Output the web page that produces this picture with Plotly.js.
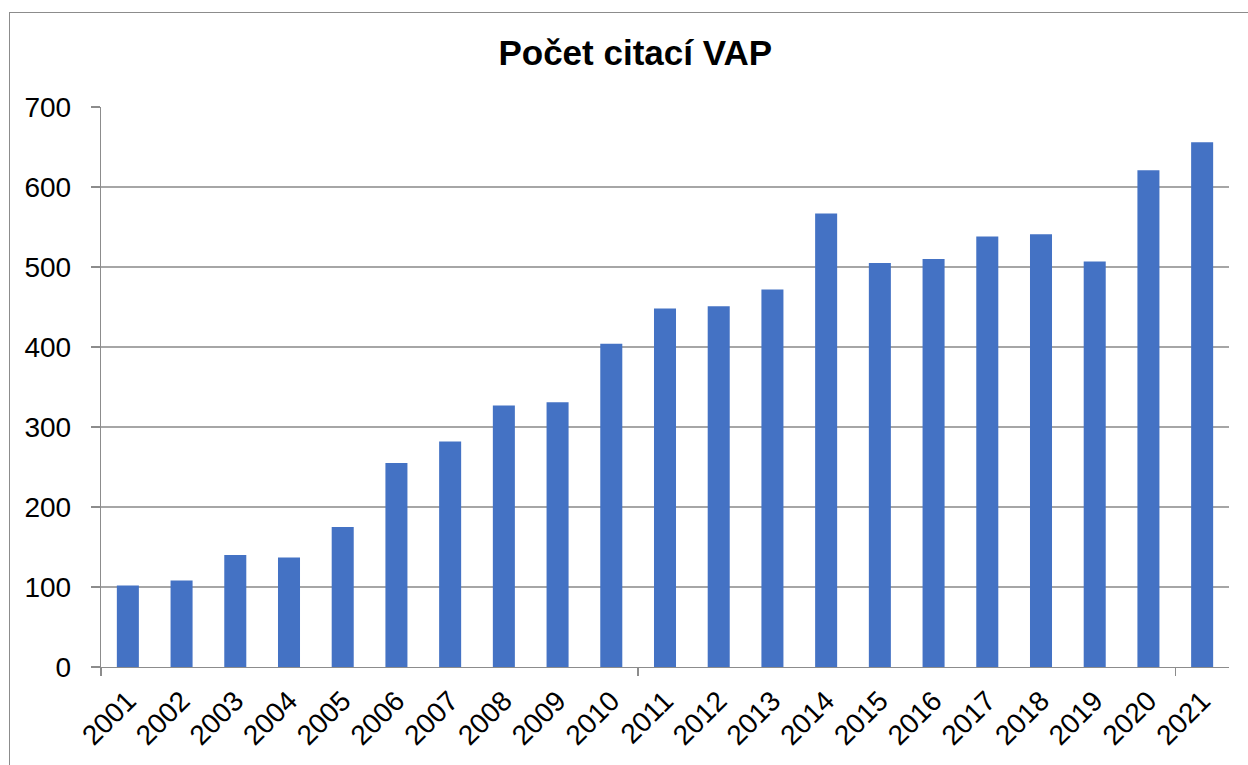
<!DOCTYPE html>
<html>
<head>
<meta charset="utf-8">
<script src="https://cdn.plot.ly/plotly-3.0.1.min.js"></script>
<style>
html,body{margin:0;padding:0;background:#fff;}
#chart{position:absolute;left:0;top:0;width:1248px;height:765px;}
#frame{position:absolute;left:9px;top:12px;width:1239px;height:753px;border-top:1px solid #8c8c8c;border-left:1px solid #8c8c8c;pointer-events:none;}
</style>
</head>
<body>
<div id="chart"></div>
<div id="frame"></div>
<script>
const years = ["2001","2002","2003","2004","2005","2006","2007","2008","2009","2010","2011","2012","2013","2014","2015","2016","2017","2018","2019","2020","2021"];
const citations = [102,108,140,137,175,255,282,327,331,404,448,451,472,567,505,510,538,541,507,621,656];
const yTicks = [0,100,200,300,400,500,600,700];
const boundaryTicks = [-0.5,9.5,19.5];

const font = "Arial, 'Liberation Sans', sans-serif";
const traces = [
  {type:'bar', x: years, y: citations, marker:{color:'#4472C4'}, hoverinfo:'x+y', showlegend:false},
  {type:'scatter', x:[-0.5], y:[0], xaxis:'x2', mode:'none', hoverinfo:'skip', showlegend:false}
];
const layout = {
  width:1248, height:765,
  margin:{l:101, r:19, t:107, b:98},
  paper_bgcolor:'#ffffff', plot_bgcolor:'#ffffff',
  bargap:0.59,
  font:{family:font, color:'#000'},
  title:{text:'<b>Počet citací VAP</b>', font:{size:35, family:font, color:'#000'}, x:0.509, xref:'container', xanchor:'center', y:1-53/765, yanchor:'middle', yref:'container'},
  xaxis:{type:'category', tickvals:years, ticktext:years, tickangle:-45, ticks:'', showgrid:false, showline:true, linecolor:'#8c8c8c', linewidth:1.3, tickfont:{size:28, family:font, color:'#000'}, ticklabelstandoff:5, zeroline:false, fixedrange:true},
  xaxis2:{overlaying:'x', range:[-0.5,20.5], tickvals:boundaryTicks, showticklabels:false, ticks:'outside', ticklen:8, tickcolor:'#8c8c8c', tickwidth:1.3, showgrid:false, showline:false, zeroline:false, side:'bottom', fixedrange:true},
  yaxis:{range:[0,700], tickvals:yTicks, ticktext:yTicks.map(String), ticks:'outside', ticklen:9, tickcolor:'#8c8c8c', tickwidth:1.3, showline:true, linecolor:'#8c8c8c', linewidth:1.3, showgrid:true, gridcolor:'#a6a6a6', gridwidth:1.3, zeroline:false, tickfont:{size:28, family:font, color:'#000'}, ticklabelstandoff:14, fixedrange:true}
};
Plotly.newPlot('chart', traces, layout, {displayModeBar:false, staticPlot:true});
</script>
</body>
</html>
